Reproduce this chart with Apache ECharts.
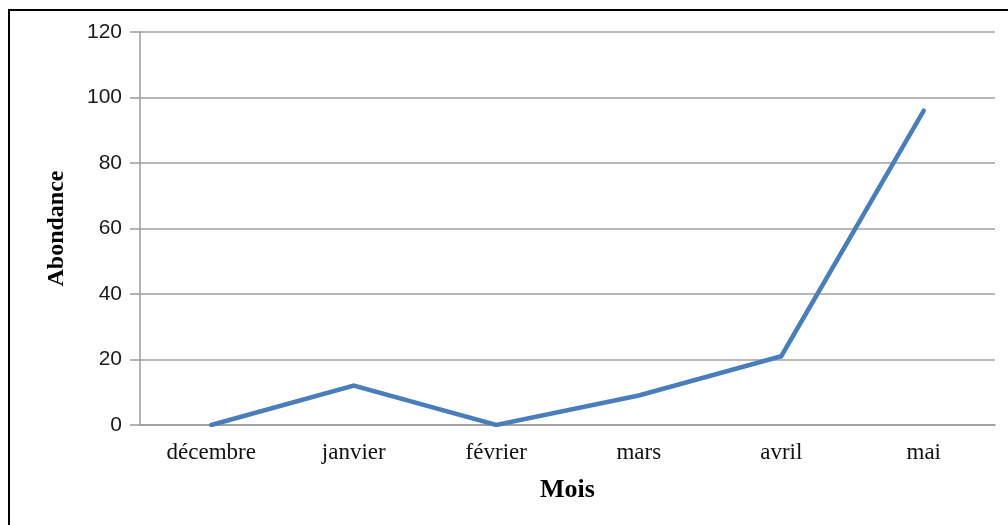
<!DOCTYPE html>
<html>
<head>
<meta charset="utf-8">
<script src="https://cdn.jsdelivr.net/npm/echarts@6/dist/echarts.min.js"></script>
<style>
  html, body { margin: 0; padding: 0; background: #fff; }
  #chart { width: 1008px; height: 525px; }
</style>
</head>
<body>
<div id="chart"></div>
<script>
// Monthly abundance
const months = ['décembre', 'janvier', 'février', 'mars', 'avril', 'mai'];
const abondance = [0, 12, 0, 9, 21, 96];
const yTicks = { min: 0, max: 120, interval: 20 };

const chart = echarts.init(document.getElementById('chart'), null, { renderer: 'canvas' });

chart.setOption({
  animation: false,
  backgroundColor: '#ffffff',
  graphic: [{
    type: 'rect',
    shape: { x: 9, y: 10, width: 1100, height: 600 },
    style: { fill: 'none', stroke: '#000', lineWidth: 2 },
    silent: true
  }],
  grid: { left: 140, right: 13, top: 32, bottom: 100 },
  xAxis: {
    type: 'category',
    data: months,
    boundaryGap: true,
    name: 'Mois',
    nameLocation: 'middle',
    nameGap: 52,
    nameTextStyle: { fontFamily: 'Liberation Serif', fontWeight: 'bold', fontSize: 26, color: '#000' },
    axisLine: { lineStyle: { color: '#9a9a9a', width: 1.5 } },
    axisTick: { show: false },
    axisLabel: { fontFamily: 'Liberation Serif', fontSize: 23, color: '#111', margin: 16 },
    splitLine: { show: false }
  },
  yAxis: {
    type: 'value',
    min: yTicks.min,
    max: yTicks.max,
    interval: yTicks.interval,
    name: 'Abondance',
    nameLocation: 'middle',
    nameGap: 71,
    nameRotate: 90,
    nameTextStyle: { fontFamily: 'Liberation Serif', fontWeight: 'bold', fontSize: 24, color: '#000' },
    axisLine: { show: true, lineStyle: { color: '#9a9a9a', width: 1.5 } },
    axisTick: { show: true, inside: false, length: 10, lineStyle: { color: '#9a9a9a', width: 1.5 } },
    axisLabel: { fontFamily: 'Liberation Sans', fontSize: 21, color: '#1a1a1a', margin: 18 },
    splitLine: { show: true, lineStyle: { color: '#a0a0a0', width: 1.5 } }
  },
  series: [{
    type: 'line',
    data: abondance,
    showSymbol: false,
    symbol: 'none',
    lineStyle: { color: '#4a7ebb', width: 4.5, cap: 'round', join: 'miter' },
    itemStyle: { color: '#4a7ebb' },
    z: 3
  }]
});
</script>
</body>
</html>
